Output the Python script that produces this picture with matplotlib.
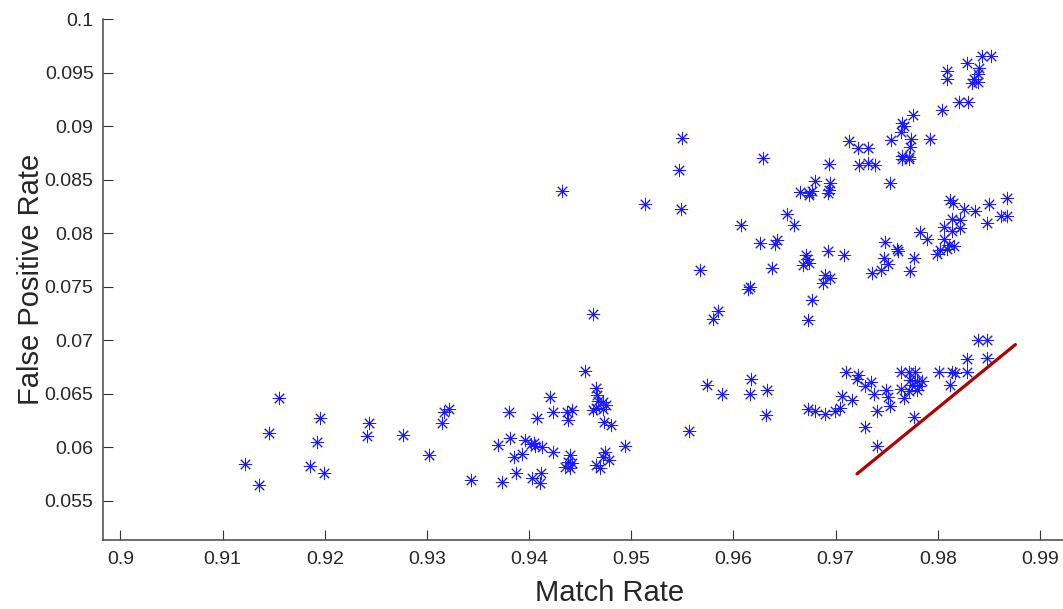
import matplotlib
matplotlib.use("Agg")
import matplotlib.pyplot as plt

plt.rcParams['font.family'] = ['Liberation Sans', 'DejaVu Sans']

# match rate / false positive rate pairs
match_rate = [
    0.91217, 0.91354, 0.91456, 0.91554, 0.91855, 0.91923, 0.91950, 0.91996,
    0.92414, 0.92431, 0.92764, 0.93020, 0.93144, 0.93170, 0.93216,
    0.93432, 0.93694, 0.93733, 0.93802, 0.93817, 0.93851, 0.93876, 0.93935,
    0.93962, 0.94021, 0.94063, 0.94053, 0.94126, 0.94024, 0.94119, 0.94109,
    0.94077, 0.94204, 0.94236, 0.94230, 0.94374, 0.94416, 0.94381, 0.94400,
    0.94384, 0.94416, 0.94351, 0.94396, 0.94548, 0.94656, 0.94665, 0.94675,
    0.94727, 0.94754, 0.94626, 0.94652, 0.94720, 0.94734, 0.94799, 0.94740,
    0.94727, 0.94779, 0.94656, 0.94695, 0.94936, 0.94322, 0.94622,
    0.95139, 0.95493, 0.95470, 0.95483, 0.95669, 0.96072, 0.96258, 0.96290,
    0.96147, 0.96163, 0.95853, 0.95804, 0.96425, 0.96408, 0.96376, 0.96523,
    0.96589, 0.96729, 0.96768, 0.96712, 0.96677, 0.96736, 0.96719, 0.96925,
    0.97082, 0.96899, 0.96948, 0.96873, 0.96938, 0.96801, 0.96948, 0.96654,
    0.96736, 0.96768, 0.96742, 0.96932, 0.96925,
    0.95745, 0.95885, 0.96170, 0.96163, 0.96324, 0.96317, 0.95568,
    0.97227, 0.97318, 0.97390, 0.97652, 0.97717, 0.97537, 0.97129, 0.97220,
    0.97318, 0.97544, 0.97743, 0.97929, 0.97733, 0.97652, 0.97717, 0.97760,
    0.97652, 0.97668, 0.97645, 0.98044, 0.98093, 0.98093, 0.98287, 0.98404,
    0.98437, 0.98525, 0.98397, 0.98355, 0.98397, 0.98332, 0.98208, 0.98296,
    0.97482, 0.97603, 0.97612, 0.97478, 0.97511, 0.97445, 0.97357, 0.97772,
    0.97730, 0.97831, 0.97890, 0.97995, 0.98027, 0.98061, 0.98061, 0.98142,
    0.98218, 0.98142, 0.98218, 0.98110, 0.98159, 0.98093, 0.98120, 0.98152,
    0.98257, 0.98361, 0.98502, 0.98479, 0.98623, 0.98682, 0.98675,
    0.96729, 0.96801, 0.96899, 0.96997, 0.97040, 0.97063, 0.97099, 0.97158,
    0.97220, 0.97207, 0.97350, 0.97291, 0.97374, 0.97495, 0.97514, 0.97537,
    0.97406, 0.97291, 0.97409, 0.97645, 0.97717, 0.97782, 0.97733, 0.97750,
    0.97799, 0.97848, 0.97645, 0.97668, 0.97799, 0.97766, 0.98012, 0.98142,
    0.98169, 0.98289, 0.98116, 0.98289, 0.98391, 0.98479, 0.98479, 0.97717,
    0.97816,
]
false_pos_rate = [
    0.05841, 0.05644, 0.06131, 0.06455, 0.05822, 0.06043, 0.06274, 0.05759,
    0.06099, 0.06221, 0.06109, 0.05925, 0.06221, 0.06324, 0.06356,
    0.05691, 0.06022, 0.05672, 0.06331, 0.06087, 0.05903, 0.05759, 0.05940,
    0.06066, 0.06031, 0.06006, 0.06037, 0.06000, 0.05713, 0.05759, 0.05663,
    0.06274, 0.06468, 0.06331, 0.05953, 0.06331, 0.06343, 0.06249, 0.05928,
    0.05865, 0.05850, 0.05816, 0.05809, 0.06708, 0.06549, 0.06490, 0.06427,
    0.06418, 0.06396, 0.06343, 0.06365, 0.06359, 0.06230, 0.06209, 0.05956,
    0.05912, 0.05881, 0.05831, 0.05800, 0.06012, 0.08397, 0.07248,
    0.08275, 0.08884, 0.08587, 0.08222, 0.07657, 0.08072, 0.07910, 0.08702,
    0.07473, 0.07494, 0.07267, 0.07199, 0.07934, 0.07894, 0.07669, 0.08175,
    0.08072, 0.07192, 0.07379, 0.07791, 0.07698, 0.07723, 0.07754, 0.07831,
    0.07794, 0.07604, 0.07582, 0.07536, 0.08643, 0.08487, 0.08465, 0.08388,
    0.08378, 0.08393, 0.08353, 0.08403, 0.08378,
    0.06581, 0.06493, 0.06640, 0.06499, 0.06537, 0.06300, 0.06150,
    0.08634, 0.08659, 0.08634, 0.08690, 0.08690, 0.08465, 0.08859, 0.08790,
    0.08790, 0.08868, 0.08877, 0.08877, 0.08800, 0.08721, 0.08715, 0.09102,
    0.09027, 0.09002, 0.08940, 0.09152, 0.09517, 0.09439, 0.09589, 0.09539,
    0.09657, 0.09657, 0.09486, 0.09439, 0.09414, 0.09402, 0.09227, 0.09227,
    0.07916, 0.07847, 0.07831, 0.07770, 0.07707, 0.07654, 0.07623, 0.07763,
    0.07641, 0.08009, 0.07941, 0.07801, 0.07841, 0.07941, 0.08060, 0.08128,
    0.08122, 0.08019, 0.08051, 0.07885, 0.07878, 0.07847, 0.08309, 0.08278,
    0.08228, 0.08206, 0.08269, 0.08097, 0.08159, 0.08159, 0.08325,
    0.06356, 0.06340, 0.06309, 0.06333, 0.06365, 0.06480, 0.06705, 0.06436,
    0.06677, 0.06637, 0.06609, 0.06567, 0.06496, 0.06537, 0.06464, 0.06380,
    0.06333, 0.06187, 0.06006, 0.06702, 0.06702, 0.06702, 0.06630, 0.06583,
    0.06614, 0.06614, 0.06546, 0.06459, 0.06537, 0.06277, 0.06702, 0.06702,
    0.06693, 0.06702, 0.06577, 0.06827, 0.07005, 0.07005, 0.06833, 0.06521,
    0.06567,
]

# red reference line
line_x = [0.9721, 0.9876]
line_y = [0.0575, 0.06958]

x_ticks = [0.9, 0.91, 0.92, 0.93, 0.94, 0.95, 0.96, 0.97, 0.98, 0.99]
y_ticks = [0.055, 0.06, 0.065, 0.07, 0.075, 0.08, 0.085, 0.09, 0.095, 0.1]

fig = plt.figure(figsize=(10.63, 6.09), dpi=100)
ax = fig.add_axes([0.0972, 0.1128, 0.9028, 0.856])

ax.plot(match_rate, false_pos_rate, linestyle='none', marker=(8, 2, 0),
        markersize=9.5, markeredgewidth=0.7, color='#1a1aff')
ax.plot(line_x, line_y, color='#b00000', linewidth=2.3, solid_capstyle='round')

ax.set_xlim(0.89833, 0.99226)
ax.set_ylim(0.05129, 0.1)
ax.set_xticks(x_ticks)
ax.set_xticklabels([f"{v:g}" for v in x_ticks])
ax.set_yticks(y_ticks)
ax.set_yticklabels([f"{v:g}" for v in y_ticks])

for s in ['top', 'right']:
    ax.spines[s].set_visible(False)
for s in ['left', 'bottom']:
    ax.spines[s].set_color('#555555')
    ax.spines[s].set_linewidth(1.2)

ax.tick_params(direction='in', length=7, width=0.8, color='#333333',
               labelsize=14, labelcolor='#262626')
ax.tick_params(axis='x', pad=8)
ax.tick_params(axis='y', pad=7)

ax.set_xlabel('Match Rate', fontsize=21, color='#262626')
ax.xaxis.set_label_coords(0.527, -0.074)
ax.set_ylabel('False Positive Rate', fontsize=21, color='#262626')
ax.yaxis.set_label_coords(-0.061, 0.5)

fig.savefig('out.png', dpi=100)
